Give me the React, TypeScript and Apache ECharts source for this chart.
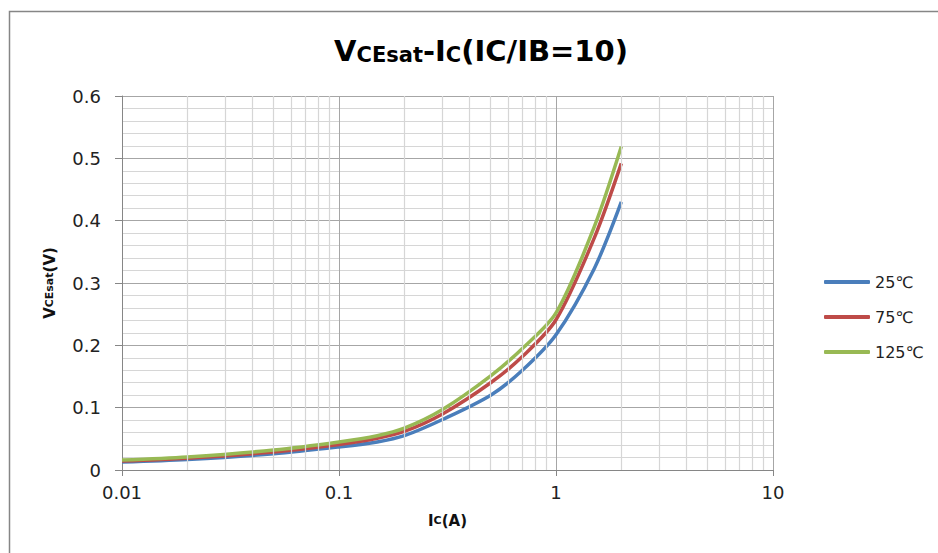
import React, { useEffect, useRef } from "react";
import * as echarts from "echarts";

const IC_VALUES = [0.01, 0.02, 0.05, 0.1, 0.15, 0.2, 0.3, 0.5, 0.7, 1, 1.5, 2];
const V_25 = [0.013, 0.017, 0.026, 0.037, 0.045, 0.055, 0.081, 0.12, 0.16, 0.217, 0.323, 0.43];
const V_75 = [0.0145, 0.019, 0.029, 0.041, 0.051, 0.062, 0.09, 0.14, 0.182, 0.241, 0.372, 0.492];
const V_125 = [0.016, 0.021, 0.032, 0.045, 0.055, 0.067, 0.097, 0.151, 0.195, 0.252, 0.39, 0.519];
const SERIES_NAMES = ["25℃", "75℃", "125℃"];
const SERIES_COLORS = ["#4a7ebb", "#be4b48", "#98b954"];
const MINOR_X_GRID = [
  0.02, 0.03, 0.04, 0.05, 0.06, 0.07, 0.08, 0.09,
  0.2, 0.3, 0.4, 0.5, 0.6, 0.7, 0.8, 0.9,
  2, 3, 4, 5, 6, 7, 8, 9,
];
const Y_TICKS = { min: 0, max: 0.6, interval: 0.1 };
const X_RANGE = { min: 0.01, max: 10 };

const FONT = "'DejaVu Sans', 'Noto Sans', sans-serif";

export default function App() {
  const ref = useRef<HTMLDivElement>(null);
  useEffect(() => {
    if (!ref.current) return;
    const chart = echarts.init(ref.current, null, { renderer: "svg" });
    const allSeries = [V_25, V_75, V_125];
    const lineSeries = allSeries.map((vals, i) => ({
      name: SERIES_NAMES[i],
      type: "line",
      data: IC_VALUES.map((x, j) => [x, vals[j]]),
      showSymbol: false,
      symbol: "none",
      smooth: 0.3,
      z: 3,
      lineStyle: { color: SERIES_COLORS[i], width: 3.5 },
      itemStyle: { color: SERIES_COLORS[i] },
    }));
    const richName = {
      b: { fontSize: 15, fontWeight: "bold", color: "#111", fontFamily: FONT },
      s: { fontSize: 11, fontWeight: "bold", color: "#111", fontFamily: FONT },
    };
    chart.setOption({
      animation: false,
      textStyle: { fontFamily: FONT },
      grid: { left: 122, right: 165, top: 96, bottom: 83, containLabel: false },
      graphic: [
        {
          type: "rect",
          shape: { x: 9.5, y: 11.5, width: 1200, height: 1200 },
          style: { fill: "none", stroke: "#868686", lineWidth: 1.5 },
          silent: true,
        },
        {
          type: "text",
          x: 481,
          y: 51,
          style: {
            text: "{b|V}{s|CEsat}{b|-I}{s|C}{b|(IC/IB=10)}",
            align: "center",
            verticalAlign: "middle",
            textAlign: "center",
            textVerticalAlign: "middle",
            rich: {
              b: { fontSize: 29, fontWeight: "bold", fontFamily: FONT, fill: "#000", color: "#000", verticalAlign: "bottom" },
              s: { fontSize: 21, fontWeight: "bold", fontFamily: FONT, fill: "#000", color: "#000", verticalAlign: "bottom" },
            },
          },
        },
      ],
      legend: {
        orient: "vertical",
        left: 819,
        top: 267,
        data: SERIES_NAMES,
        icon: "roundRect",
        itemWidth: 46,
        itemHeight: 4,
        itemGap: 15,
        textStyle: { fontSize: 16, color: "#222", lineHeight: 20, fontFamily: FONT },
      },
      xAxis: {
        type: "log",
        logBase: 10,
        min: X_RANGE.min,
        max: X_RANGE.max,
        name: "{b|I}{s|C}{b|(A)}",
        nameLocation: "middle",
        nameGap: 43,
        nameTextStyle: { rich: richName },
        axisLine: { show: true, onZero: false, lineStyle: { color: "#868686", width: 1 } },
        axisTick: { show: true, inside: false, length: 6, lineStyle: { color: "#868686" } },
        axisLabel: {
          fontSize: 18,
          color: "#222",
          margin: 13,
          formatter: (v: number) => String(+v.toPrecision(6)),
        },
        splitLine: { show: true, lineStyle: { color: "#a6a6a6", width: 1 } },
        minorTick: { show: false },
        minorSplitLine: { show: false },
      },
      yAxis: {
        type: "value",
        min: Y_TICKS.min,
        max: Y_TICKS.max,
        interval: Y_TICKS.interval,
        name: "{b|V}{s|CEsat}{b|(V)}",
        nameLocation: "middle",
        nameGap: 65,
        nameTextStyle: { rich: richName },
        axisLine: { show: true, lineStyle: { color: "#868686", width: 1 } },
        axisTick: { show: true, inside: false, length: 7, lineStyle: { color: "#868686" } },
        axisLabel: { fontSize: 18, color: "#222", margin: 21 },
        splitLine: { show: true, lineStyle: { color: "#a6a6a6", width: 1 } },
        minorTick: { show: false, splitNumber: 5 },
        minorSplitLine: { show: true, lineStyle: { color: "#d6d6d6", width: 1.2 } },
      },
      series: [
        {
          name: "minor-x-grid",
          type: "line",
          data: [],
          z: 1,
          silent: true,
          markLine: {
            silent: true,
            symbol: ["none", "none"],
            label: { show: false },
            emphasis: { disabled: true },
            lineStyle: { type: "solid", color: "#d6d6d6", width: 1.2 },
            data: MINOR_X_GRID.map((v) => ({ xAxis: v })),
          },
        },
        ...lineSeries,
      ],
    });
    return () => chart.dispose();
  }, []);
  return (
    <div
      ref={ref}
      style={{ position: "absolute", left: 0, top: 0, width: 938, height: 553, background: "#fff" }}
    />
  );
}
